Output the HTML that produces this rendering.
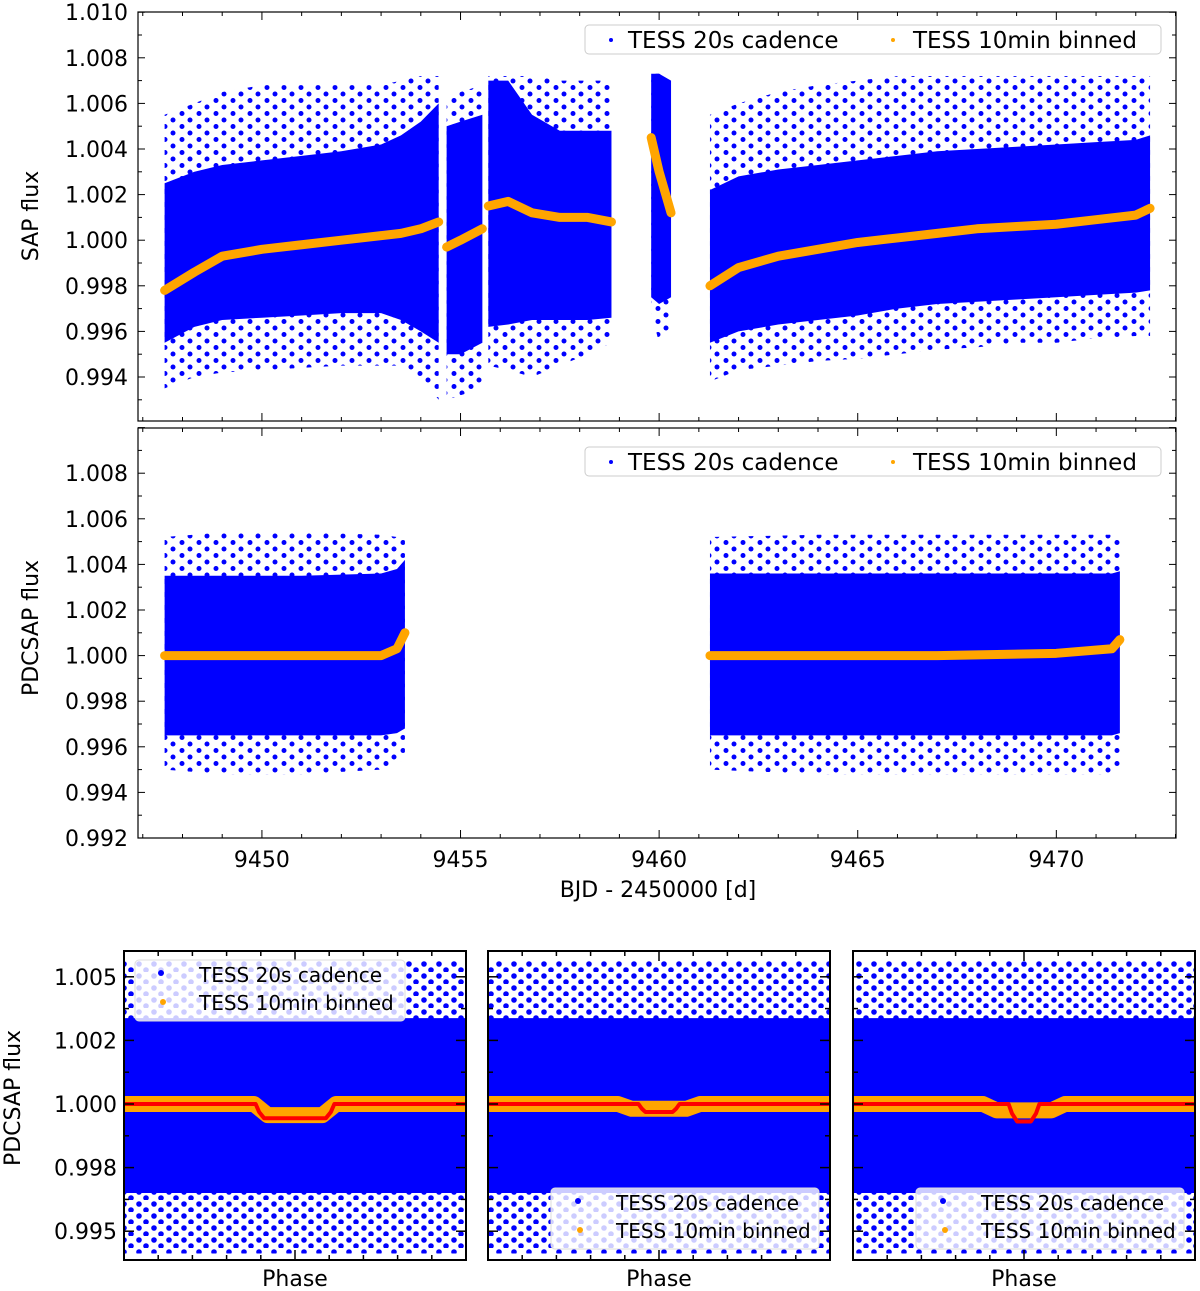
<!DOCTYPE html>
<html><head><meta charset="utf-8"><title>TESS light curves</title>
<style>
html,body{margin:0;padding:0;background:#fff;}
svg{display:block;font-family:"DejaVu Sans","Liberation Sans",sans-serif;}
</style></head>
<body>
<svg id="fig" width="1200" height="1291" viewBox="0 0 1200 1291" xmlns="http://www.w3.org/2000/svg">
<defs>
<pattern id="dots" width="17" height="13" patternUnits="userSpaceOnUse">
<circle cx="3" cy="3" r="2.5" fill="#0000ff"/><circle cx="12" cy="9.5" r="2.5" fill="#0000ff"/>
</pattern>
<pattern id="dots2" width="15" height="12" patternUnits="userSpaceOnUse">
<circle cx="4" cy="4" r="2.8" fill="#0000ff"/><circle cx="11" cy="10" r="2.8" fill="#0000ff"/>
</pattern>
</defs>
</svg>
<script>
// ---------- DATA ----------
const sapT1=[9447.55,9448.3,9449,9450,9451,9452,9453,9453.5,9454.0,9454.45];
const sapTrend1=[0.9978,0.9986,0.9993,0.9996,0.9998,1.0000,1.0002,1.0003,1.0005,1.0008];
const sapHi1=[1.0025,1.0030,1.0033,1.0035,1.0037,1.0039,1.0042,1.0046,1.0052,1.0060];
const sapLo1=[0.9955,0.9962,0.9965,0.9966,0.9967,0.9968,0.9968,0.9965,0.9960,0.9955];
const sapOHi1=[1.0055,1.0060,1.0065,1.0068,1.0068,1.0068,1.0068,1.0070,1.0072,1.0072];
const sapOLo1=[0.9935,0.9940,0.9942,0.9943,0.9944,0.9945,0.9945,0.9945,0.9940,0.9930];
const sapT2=[9454.65,9455.0,9455.55];
const sapTrend2=[0.9997,1.0000,1.0005];
const sapHi2=[1.0050,1.0052,1.0055];
const sapLo2=[0.9950,0.9950,0.9955];
const sapOHi2=[1.0062,1.0065,1.0068];
const sapOLo2=[0.9930,0.9932,0.9935];
const sapT3=[9455.7,9456.2,9456.8,9457.5,9458.2,9458.8];
const sapTrend3=[1.0015,1.0017,1.0012,1.0010,1.0010,1.0008];
const sapHi3=[1.0070,1.0070,1.0055,1.0048,1.0048,1.0048];
const sapLo3=[0.9962,0.9963,0.9965,0.9965,0.9965,0.9966];
const sapOHi3=[1.0072,1.0072,1.0072,1.0070,1.0070,1.0070];
const sapOLo3=[0.9945,0.9943,0.9940,0.9945,0.9950,0.9955];
const sapT4=[9459.8,9460.0,9460.3];
const sapTrend4=[1.0045,1.0030,1.0012];
const sapHi4=[1.0073,1.0073,1.0070];
const sapLo4=[0.9975,0.9972,0.9975];
const sapOHi4=[1.0073,1.0073,1.0070];
const sapOLo4=[0.9968,0.9955,0.9960];
const sapT5=[9461.28,9462,9463,9464,9465,9466,9467,9468,9469,9470,9471,9472,9472.36];
const sapTrend5=[0.9980,0.9988,0.9993,0.9996,0.9999,1.0001,1.0003,1.0005,1.0006,1.0007,1.0009,1.0011,1.0014];
const sapHi5=[1.0022,1.0028,1.0031,1.0033,1.0035,1.0037,1.0039,1.0040,1.0041,1.0042,1.0043,1.0044,1.0046];
const sapLo5=[0.9955,0.9960,0.9963,0.9965,0.9967,0.9970,0.9972,0.9973,0.9974,0.9975,0.9976,0.9977,0.9978];
const sapOHi5=[1.0055,1.0060,1.0065,1.0068,1.0070,1.0072,1.0072,1.0072,1.0072,1.0072,1.0072,1.0072,1.0072];
const sapOLo5=[0.9938,0.9943,0.9945,0.9947,0.9948,0.9950,0.9952,0.9953,0.9955,0.9955,0.9957,0.9958,0.9958];
const pdcT1=[9447.55,9449,9451,9453,9453.4,9453.6];
const pdcTrend1=[1.0000,1.0000,1.0000,1.0000,1.0003,1.0010];
const pdcHi1=[1.0035,1.0035,1.0035,1.0036,1.0038,1.0042];
const pdcLo1=[0.9965,0.9965,0.9965,0.9965,0.9966,0.9968];
const pdcOHi1=[1.0052,1.0054,1.0054,1.0053,1.0052,1.0052];
const pdcOLo1=[0.9950,0.9948,0.9948,0.9950,0.9952,0.9955];
const pdcT2=[9461.28,9464,9467,9470,9471.4,9471.6];
const pdcTrend2=[1.0000,1.0000,1.0000,1.0001,1.0003,1.0007];
const pdcHi2=[1.0036,1.0036,1.0036,1.0036,1.0036,1.0037];
const pdcLo2=[0.9965,0.9965,0.9965,0.9965,0.9965,0.9966];
const pdcOHi2=[1.0052,1.0053,1.0053,1.0053,1.0053,1.0052];
const pdcOLo2=[0.9950,0.9948,0.9948,0.9948,0.9948,0.9950];
const xTicks=[9450,9455,9460,9465,9470];
const xTickLabels=["9450","9455","9460","9465","9470"];
const sapYTicks=[0.994,0.996,0.998,1.000,1.002,1.004,1.006,1.008,1.010];
const sapYLabels=["0.994","0.996","0.998","1.000","1.002","1.004","1.006","1.008","1.010"];
const pdcYTicks=[0.992,0.994,0.996,0.998,1.000,1.002,1.004,1.006,1.008];
const pdcYLabels=["0.992","0.994","0.996","0.998","1.000","1.002","1.004","1.006","1.008"];
const phYTicks=[0.996,0.998,1.000,1.002,1.004];
const phYLabels=["0.995","0.998","1.000","1.002","1.005"];
const phDenseLo=[0.9972,0.9972,0.9972];
const phDenseHi=[1.0027,1.0027,1.0027];
const phOuterLo=[0.9953,0.9953,0.9953];
const phOuterHi=[1.0045,1.0045,1.0045];
const modelPhase1=[-0.5,-0.115,-0.105,-0.09,0.09,0.105,0.115,0.5];
const modelFlux1=[1,1,0.99975,0.99955,0.99955,0.99975,1,1];
const modelPhase2=[-0.5,-0.06,-0.05,-0.04,0.04,0.05,0.06,0.5];
const modelFlux2=[1,1,0.99985,0.99975,0.99975,0.99985,1,1];
const modelPhase3=[-0.5,-0.045,-0.035,-0.02,0.02,0.035,0.045,0.5];
const modelFlux3=[1,1,0.9997,0.99945,0.99945,0.9997,1,1];
const binnedPhase=[-0.5,-0.12,-0.08,0.08,0.12,0.5];
const binnedFlux1=[1.0000,1.0000,0.99965,0.99965,1.0000,1.0000];
const binnedFlux2=[1.0000,1.0000,0.99985,0.99985,1.0000,1.0000];
const binnedFlux3=[1.0000,1.0000,0.9998,0.9998,1.0000,1.0000];

// ---------- DRAWING ----------
const NS="http://www.w3.org/2000/svg";
const svg=document.getElementById('fig');
function mk(tag,attrs,parent){const e=document.createElementNS(NS,tag);for(const k in attrs)e.setAttribute(k,attrs[k]);(parent||svg).appendChild(e);return e;}

const X=t=>138+(t-9446.88)*39.72;
const Ysap=f=>377-(f-0.994)/0.002*45.6;
const Ypdc=f=>838-(f-0.992)/0.002*45.6;

function band(g,xs,lo,hi,xf,yf,fill){
  let pts=xs.map((t,i)=>xf(t)+','+yf(hi[i]));
  for(let i=xs.length-1;i>=0;i--)pts.push(xf(xs[i])+','+yf(lo[i]));
  return mk('polygon',{points:pts.join(' '),fill:fill},g);
}
function line(g,xs,ys,xf,yf,stroke,w){
  return mk('polyline',{points:xs.map((t,i)=>xf(t)+','+yf(ys[i])).join(' '),fill:'none',stroke:stroke,'stroke-width':w,'stroke-linejoin':'round','stroke-linecap':'round'},g);
}
function text(g,x,y,s,size,anchor){const e=mk('text',{x:x,y:y,'font-size':size,'text-anchor':anchor||'start',fill:'#000'},g);e.textContent=s;return e;}

function segments(g,list,yf){
  list.forEach(s=>{
    const o=band(g,s[0],s[4],s[5],X,yf,'url(#dots)');
    
    
  });
  list.forEach(s=>{
    const d=band(g,s[0],s[2],s[3],X,yf,'#0000ff');
    
    
  });
  list.forEach(s=>{
    const l=line(g,s[0],s[1],X,yf,'#ffa500',9);
    
    
  });
}
function timeFrame(g,y0,y1,ticks,labels,yf,showX){
  for(let f=990;f<=1012;f++){
    const v=f/1000;const y=yf(v);if(y<y0-0.5||y>y1+0.5)continue;
    const major=(f%2===0);const L=major?7:4;
    mk('line',{x1:138,y1:y,x2:138+L,y2:y,stroke:'#000','stroke-width':1},g);
    mk('line',{x1:1176,y1:y,x2:1176-L,y2:y,stroke:'#000','stroke-width':1},g);
  }
  ticks.forEach((v,i)=>{const t=text(g,128,yf(v)+8,labels[i],22,'end');
    
    });
  for(let d=9447;d<=9473;d++){
    const x=X(d);if(x>1176)continue;const L=(d%5===0)?8:4;
    mk('line',{x1:x,y1:y1,x2:x,y2:y1-L,stroke:'#000','stroke-width':1},g);
    mk('line',{x1:x,y1:y0,x2:x,y2:y0+L,stroke:'#000','stroke-width':1},g);
  }
  if(showX){xTicks.forEach((v,i)=>{const t=text(g,X(v),y1+29,xTickLabels[i],22,'middle');
    
    });}
  const r=mk('rect',{x:138,y:y0,width:1038,height:y1-y0,fill:'none',stroke:'#000','stroke-width':1.2},g);
  
  
}
function legendTop(g,y){
  const b=mk('rect',{x:585,y:y,width:576,height:29,rx:4,fill:'#fff','fill-opacity':0.85,stroke:'#ccc','stroke-width':1},g);
  
  
  mk('circle',{cx:611,cy:y+15,r:2,fill:'#0000ff'},g);
  const t1=text(g,628,y+23,'TESS 20s cadence',23);
  
  
  mk('circle',{cx:893,cy:y+15,r:2,fill:'#ffa500'},g);
  const t2=text(g,913,y+23,'TESS 10min binned',23);
  
  
}

const gSap=mk('g',{});


segments(gSap,[[sapT1,sapTrend1,sapLo1,sapHi1,sapOLo1,sapOHi1],[sapT2,sapTrend2,sapLo2,sapHi2,sapOLo2,sapOHi2],[sapT3,sapTrend3,sapLo3,sapHi3,sapOLo3,sapOHi3],[sapT4,sapTrend4,sapLo4,sapHi4,sapOLo4,sapOHi4],[sapT5,sapTrend5,sapLo5,sapHi5,sapOLo5,sapOHi5]],Ysap);
mk('rect',{x:0,y:0,width:1200,height:12,fill:'#fff'},gSap);
mk('rect',{x:0,y:421,width:1200,height:7,fill:'#fff'},gSap);
timeFrame(gSap,12,421,sapYTicks,sapYLabels,Ysap,false);
legendTop(gSap,25);
const ySapLab=text(gSap,0,0,'SAP flux',22,'middle');
ySapLab.setAttribute('transform','translate(38,216) rotate(-90)');



const gPdc=mk('g',{});


segments(gPdc,[[pdcT1,pdcTrend1,pdcLo1,pdcHi1,pdcOLo1,pdcOHi1],[pdcT2,pdcTrend2,pdcLo2,pdcHi2,pdcOLo2,pdcOHi2]],Ypdc);
timeFrame(gPdc,428,838,pdcYTicks,pdcYLabels,Ypdc,true);
legendTop(gPdc,447);
const yPdcLab=text(gPdc,0,0,'PDCSAP flux',22,'middle');
yPdcLab.setAttribute('transform','translate(38,628) rotate(-90)');


const xLab=text(gPdc,658,897,'BJD - 2450000 [d]',22,'middle');



const Yph=f=>1104-(f-1)/0.002*63.6;
const panels=[
 {x0:124,x1:466,mp:modelPhase1,mf:modelFlux1,bf:binnedFlux1,leg:'top'},
 {x0:488,x1:830,mp:modelPhase2,mf:modelFlux2,bf:binnedFlux2,leg:'bottom'},
 {x0:853,x1:1195,mp:modelPhase3,mf:modelFlux3,bf:binnedFlux3,leg:'bottom'}];
const phaseX=[-0.5,0,0.5];
panels.forEach((p,k)=>{
  const g=mk('g',{});
  
  
  const Xp=v=>p.x0+(v+0.5)*(p.x1-p.x0);
  const cp=mk('clipPath',{id:'cp'+k},g);
  mk('rect',{x:p.x0,y:951,width:p.x1-p.x0,height:309},cp);
  const inner=mk('g',{'clip-path':'url(#cp'+k+')'},g);
  const o=band(inner,phaseX,phOuterLo,phOuterHi,Xp,Yph,'url(#dots2)');
  
  
  const d=band(inner,phaseX,phDenseLo,phDenseHi,Xp,Yph,'#0000ff');
  
  
  const b=line(inner,binnedPhase,p.bf,Xp,Yph,'#ffa500',16);
  
  
  const m=line(inner,p.mp,p.mf,Xp,Yph,'#ff0000',4);
  
  
  for(let f=995;f<=1005;f++){const y=Yph(f/1000);if(y<951||y>1260)continue;
    const L=(f%2===0)?10:5;
    mk('line',{x1:p.x0,y1:y,x2:p.x0+L,y2:y,stroke:'#000','stroke-width':1.5},g);
    mk('line',{x1:p.x1,y1:y,x2:p.x1-L,y2:y,stroke:'#000','stroke-width':1.5},g);}
  for(let i=0;i<=10;i++){const x=p.x0+i*(p.x1-p.x0)/10;const L=(i%5===0)?10:5;
    mk('line',{x1:x,y1:1260,x2:x,y2:1260-L,stroke:'#000','stroke-width':1.5},g);
    mk('line',{x1:x,y1:951,x2:x,y2:951+L,stroke:'#000','stroke-width':1.5},g);}
  const fr=mk('rect',{x:p.x0,y:951,width:p.x1-p.x0,height:309,fill:'none',stroke:'#000','stroke-width':2},g);
  
  
  const lx=p.leg==='top'?p.x0+11:p.x0+63, ly=p.leg==='top'?960:1188;
  const tx=p.leg==='top'?p.x0+75:p.x0+128;
  const lb=mk('rect',{x:lx,y:ly,width:p.leg==='top'?270:268,height:61,rx:4,fill:'#fff','fill-opacity':0.8,stroke:'#ddd','stroke-width':1},g);
  
  
  mk('circle',{cx:tx-38,cy:ly+13,r:3,fill:'#0000ff'},g);
  mk('circle',{cx:tx-36,cy:ly+42,r:3,fill:'#ffa500'},g);
  const l1=text(g,tx,ly+22,'TESS 20s cadence',20);
  
  
  const l2=text(g,tx,ly+50,'TESS 10min binned',20);
  
  
  const xl=text(g,(p.x0+p.x1)/2,1286,'Phase',22,'middle');
  
  
  if(k===0){
    phYTicks.forEach((v,i)=>{const t=text(g,117,Yph(v)+8,phYLabels[i],22,'end');
      
      });
    const yl=text(g,0,0,'PDCSAP flux',22,'middle');
    yl.setAttribute('transform','translate(20,1098) rotate(-90)');
    
    
  }
});
</script>
</body></html>
